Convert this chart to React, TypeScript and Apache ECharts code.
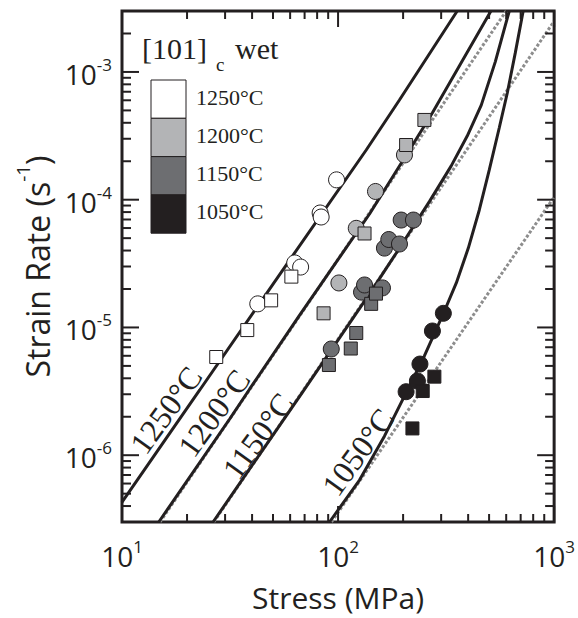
import React, { useEffect, useRef } from 'react';
import * as echarts from 'echarts';

const INK = '#231f20';
const SANS = '"Open Sans", "Liberation Sans", sans-serif';
const SERIF = '"Liberation Serif", "DejaVu Serif", serif';

const X_MIN = 10;
const X_MAX = 1000;
const Y_MIN = 3e-7;
const Y_MAX = 3e-3;

const xMajorTicks = [10, 100, 1000];
const xMinorTicks = [20, 30, 40, 50, 60, 70, 80, 90, 200, 300, 400, 500, 600, 700, 800, 900];
const yMajorTicks = [1e-6, 1e-5, 1e-4, 1e-3];
const yMinorTicks = [
  4e-7, 5e-7, 6e-7, 7e-7, 8e-7, 9e-7,
  2e-6, 3e-6, 4e-6, 5e-6, 6e-6, 7e-6, 8e-6, 9e-6,
  2e-5, 3e-5, 4e-5, 5e-5, 6e-5, 7e-5, 8e-5, 9e-5,
  2e-4, 3e-4, 4e-4, 5e-4, 6e-4, 7e-4, 8e-4, 9e-4,
  2e-3,
];

const temperatures = ['1250°C', '1200°C', '1150°C', '1050°C'];
const tempColors = ['#ffffff', '#b3b4b6', '#6d6e71', '#231f20'];

// flow-law curves (stress MPa, strain rate s^-1)
const curve1250: [number, number][] = [[10, 4.3e-7], [22.9, 3.24e-6], [59.7, 3.37e-5], [135, 2.45e-4], [192, 6.0e-4], [356, 3.0e-3]];
const curve1200: [number, number][] = [[14.8, 3.0e-7], [31.5, 1.92e-6], [39.0, 3.3e-6], [66.4, 1.25e-5], [139.8, 7.73e-5], [214, 2.45e-4], [273, 4.77e-4], [510, 3.0e-3]];
const curve1150: [number, number][] = [[26.4, 3.0e-7], [68.5, 3.12e-6], [139.8, 1.83e-5], [186, 3.83e-5], [265, 9.7e-5], [334, 1.84e-4], [396, 3.15e-4], [460, 5.5e-4], [534, 1.2e-3], [620, 3.0e-3]];
const curve1050: [number, number][] = [[91.3, 3.0e-7], [125.7, 6.39e-7], [163.9, 1.41e-6], [205, 3.01e-6], [250.9, 5.98e-6], [303.8, 1.23e-5], [352.6, 2.23e-5], [400.7, 4.18e-5], [450.5, 8.31e-5], [501, 1.71e-4], [557, 3.64e-4], [607, 6.84e-4], [661, 1.41e-3], [719, 3.0e-3]];

// power-law asymptotes (dotted)
const dotted1200: [number, number][] = [[15.0, 3.0e-7], [600, 3.0e-3]];
const dotted1150: [number, number][] = [[26.6, 3.0e-7], [1000, 2.5e-3]];
const dotted1050: [number, number][] = [[93.3, 3.0e-7], [1000, 1.05e-4]];

// measurements
const circles1250: [number, number][] = [[42.5, 1.53e-5], [63.0, 3.2e-5], [67.1, 2.97e-5], [82.6, 7.87e-5], [83.5, 7.32e-5], [98.4, 1.43e-4]];
const squares1250: [number, number][] = [[27.3, 5.87e-6], [38.0, 9.54e-6], [49.0, 1.63e-5], [60.8, 2.5e-5]];
const circles1200: [number, number][] = [[100.9, 2.23e-5], [121.4, 5.97e-5], [149.0, 1.16e-4], [202.9, 2.24e-4]];
const squares1200: [number, number][] = [[85.7, 1.29e-5], [132.6, 5.44e-5], [206.5, 2.68e-4], [250.9, 4.21e-4]];
const circles1150: [number, number][] = [[93.0, 6.78e-6], [128.4, 1.89e-5], [132.6, 2.15e-5], [160.5, 2.04e-5], [163.9, 4.18e-5], [171.7, 4.88e-5], [192.4, 4.5e-5], [195.9, 6.93e-5], [223.2, 6.93e-5]];
const squares1150: [number, number][] = [[90.7, 5.08e-6], [114.5, 6.84e-6], [121.4, 9.05e-6], [142.3, 1.53e-5], [149.8, 1.84e-5]];
const circles1050: [number, number][] = [[206.5, 3.14e-6], [232.9, 3.81e-6], [239.3, 5.17e-6], [273.3, 9.38e-6], [307.1, 1.29e-5]];
const squares1050: [number, number][] = [[220.9, 1.62e-6], [246.5, 3.18e-6], [279.1, 4.12e-6]];

const supFormatter = (v: number) => {
  const e = Math.log10(v);
  const r = Math.round(e);
  if (Math.abs(e - r) > 1e-6) return '';
  return `{b|10}{s|${r}}`;
};

const labelRich = {
  b: { fontSize: 28, fontFamily: SANS, color: INK, lineHeight: 32, verticalAlign: 'bottom' },
  s: { fontSize: 17, fontFamily: SANS, color: INK, lineHeight: 16, verticalAlign: 'top' },
};

function tickSeries(data: number[][], isX: boolean) {
  return {
    type: 'custom',
    silent: true,
    clip: false,
    z: 6,
    dimensions: ['x', 'y', 'major'],
    encode: { x: 0, y: 1 },
    data,
    renderItem: (params: any, api: any) => {
      const cs = params.coordSys;
      const major = api.value(2) === 1;
      const p = api.coord([api.value(0), api.value(1)]);
      const style = { stroke: INK, lineWidth: 2 };
      if (isX) {
        const len = major ? 16 : 8;
        return {
          type: 'group',
          children: [
            { type: 'line', shape: { x1: p[0], y1: cs.y + cs.height, x2: p[0], y2: cs.y + cs.height - len }, style },
            { type: 'line', shape: { x1: p[0], y1: cs.y, x2: p[0], y2: cs.y + len }, style },
          ],
        };
      }
      const len = major ? 17 : 9;
      return {
        type: 'group',
        children: [
          { type: 'line', shape: { x1: cs.x, y1: p[1], x2: cs.x + len, y2: p[1] }, style },
          { type: 'line', shape: { x1: cs.x + cs.width, y1: p[1], x2: cs.x + cs.width - len, y2: p[1] }, style },
        ],
      };
    },
  };
}

function lineSeries(data: [number, number][], dotted: boolean) {
  return {
    type: 'line',
    data,
    symbol: 'none',
    z: dotted ? 1 : 2,
    silent: true,
    lineStyle: dotted
      ? { color: '#8d8d8d', width: 3, type: [3, 2] }
      : { color: INK, width: 3 },
  };
}

function scatterSeries(data: [number, number][], color: string, square: boolean) {
  return {
    type: 'scatter',
    data,
    symbol: square ? 'rect' : 'circle',
    symbolSize: square ? 13 : 16,
    z: square ? 4 : 3,
    silent: true,
    itemStyle: { color, borderColor: INK, borderWidth: 1, opacity: 1 },
  };
}

const legendRowCenters = [97, 135.5, 173, 211];
const curveLabelPos = [
  [166, 410],
  [214, 413],
  [258, 436],
  [358, 452],
];

export default function App() {
  const ref = useRef<HTMLDivElement>(null);
  useEffect(() => {
    document.body.style.margin = '0';
    const chart = echarts.init(ref.current!, undefined, { renderer: 'svg' });
    const graphics: any[] = [];
    temperatures.forEach((t, i) => {
      graphics.push({
        type: 'rect',
        shape: { x: 151, y: 80 + i * 38.3, width: 35, height: 38.3 },
        style: { fill: tempColors[i], stroke: INK, lineWidth: 1 },
      });
      graphics.push({
        type: 'text',
        x: 196,
        y: legendRowCenters[i],
        style: { text: t, fontFamily: SERIF, fontSize: 22, fill: INK, verticalAlign: 'middle' },
      });
      graphics.push({
        type: 'text',
        x: curveLabelPos[i][0],
        y: curveLabelPos[i][1],
        rotation: (54 * Math.PI) / 180,
        style: { text: t, fontFamily: SERIF, fontSize: 32, fill: INK, align: 'center', verticalAlign: 'middle' },
      });
    });
    graphics.push({
      type: 'text', x: 142, y: 48,
      style: { text: '[101]', fontFamily: SERIF, fontSize: 30, fill: INK, verticalAlign: 'middle' },
    });
    graphics.push({
      type: 'text', x: 216, y: 64,
      style: { text: 'c', fontFamily: SERIF, fontSize: 19, fill: INK, verticalAlign: 'middle' },
    });
    graphics.push({
      type: 'text', x: 235, y: 48,
      style: { text: 'wet', fontFamily: SERIF, fontSize: 30, fill: INK, verticalAlign: 'middle' },
    });

    const xTickData = [
      ...xMajorTicks.map((v) => [v, Y_MIN, 1]),
      ...xMinorTicks.map((v) => [v, Y_MIN, 0]),
    ];
    const yTickData = [
      ...yMajorTicks.map((v) => [X_MIN, v, 1]),
      ...yMinorTicks.map((v) => [X_MIN, v, 0]),
    ];

    chart.setOption({
      animation: false,
      backgroundColor: '#ffffff',
      grid: { left: 122, right: 22, top: 11, bottom: 96, show: true, borderColor: INK, borderWidth: 3, backgroundColor: 'transparent' },
      xAxis: {
        type: 'log', logBase: 10, min: X_MIN, max: X_MAX,
        axisLine: { show: false }, axisTick: { show: false }, splitLine: { show: false },
        axisLabel: { margin: 16, formatter: supFormatter, rich: labelRich },
        name: 'Stress (MPa)', nameLocation: 'middle', nameGap: 60,
        nameTextStyle: { fontSize: 30, fontFamily: SANS, color: INK, lineHeight: 30 },
      },
      yAxis: {
        type: 'log', logBase: 10, min: Y_MIN, max: Y_MAX,
        axisLine: { show: false }, axisTick: { show: false }, splitLine: { show: false },
        axisLabel: { margin: 10, formatter: supFormatter, rich: labelRich },
        name: '{a|Strain Rate (s}{sup|-1}{a|)}', nameLocation: 'middle', nameGap: 68,
        nameTextStyle: {
          rich: {
            a: { fontSize: 32, fontFamily: SANS, color: INK, lineHeight: 40, verticalAlign: 'bottom' },
            sup: { fontSize: 19, fontFamily: SANS, color: INK, lineHeight: 20, verticalAlign: 'top' },
          },
        },
      },
      graphic: graphics,
      series: [
        lineSeries(dotted1200, true),
        lineSeries(dotted1150, true),
        lineSeries(dotted1050, true),
        lineSeries(curve1250, false),
        lineSeries(curve1200, false),
        lineSeries(curve1150, false),
        lineSeries(curve1050, false),
        scatterSeries(circles1250, tempColors[0], false),
        scatterSeries(circles1200, tempColors[1], false),
        scatterSeries(circles1150, tempColors[2], false),
        scatterSeries(circles1050, tempColors[3], false),
        scatterSeries(squares1250, tempColors[0], true),
        scatterSeries(squares1200, tempColors[1], true),
        scatterSeries(squares1150, tempColors[2], true),
        scatterSeries(squares1050, tempColors[3], true),
        tickSeries(xTickData, true),
        tickSeries(yTickData, false),
      ],
    });
    return () => chart.dispose();
  }, []);
  return <div ref={ref} style={{ width: 578, height: 618, position: 'absolute', left: 0, top: 0 }} />;
}
